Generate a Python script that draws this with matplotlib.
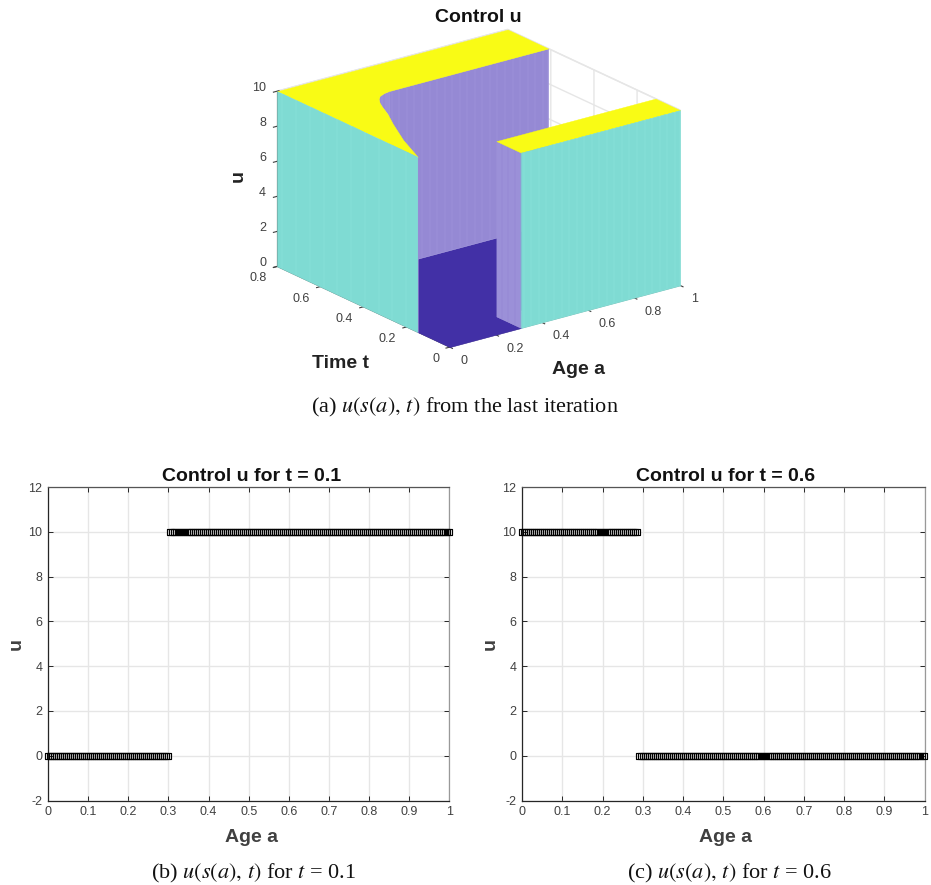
import matplotlib
matplotlib.use("Agg")
import numpy as np
import matplotlib.pyplot as plt
from mpl_toolkits.mplot3d import proj3d
from mpl_toolkits.mplot3d.art3d import Poly3DCollection

###
### Data
###
age_grid = [0.000, 0.005, 0.010, 0.015, 0.020, 0.025, 0.030, 0.035, 0.040, 0.045,
            0.050, 0.055, 0.060, 0.065, 0.070, 0.075, 0.080, 0.085, 0.090, 0.095,
            0.100, 0.105, 0.110, 0.115, 0.120, 0.125, 0.130, 0.135, 0.140, 0.145,
            0.150, 0.155, 0.160, 0.165, 0.170, 0.175, 0.180, 0.185, 0.190, 0.195,
            0.200, 0.205, 0.210, 0.215, 0.220, 0.225, 0.230, 0.235, 0.240, 0.245,
            0.250, 0.255, 0.260, 0.265, 0.270, 0.275, 0.280, 0.285, 0.290, 0.295,
            0.300, 0.305, 0.310, 0.315, 0.320, 0.325, 0.330, 0.335, 0.340, 0.345,
            0.350, 0.355, 0.360, 0.365, 0.370, 0.375, 0.380, 0.385, 0.390, 0.395,
            0.400, 0.405, 0.410, 0.415, 0.420, 0.425, 0.430, 0.435, 0.440, 0.445,
            0.450, 0.455, 0.460, 0.465, 0.470, 0.475, 0.480, 0.485, 0.490, 0.495,
            0.500, 0.505, 0.510, 0.515, 0.520, 0.525, 0.530, 0.535, 0.540, 0.545,
            0.550, 0.555, 0.560, 0.565, 0.570, 0.575, 0.580, 0.585, 0.590, 0.595,
            0.600, 0.605, 0.610, 0.615, 0.620, 0.625, 0.630, 0.635, 0.640, 0.645,
            0.650, 0.655, 0.660, 0.665, 0.670, 0.675, 0.680, 0.685, 0.690, 0.695,
            0.700, 0.705, 0.710, 0.715, 0.720, 0.725, 0.730, 0.735, 0.740, 0.745,
            0.750, 0.755, 0.760, 0.765, 0.770, 0.775, 0.780, 0.785, 0.790, 0.795,
            0.800, 0.805, 0.810, 0.815, 0.820, 0.825, 0.830, 0.835, 0.840, 0.845,
            0.850, 0.855, 0.860, 0.865, 0.870, 0.875, 0.880, 0.885, 0.890, 0.895,
            0.900, 0.905, 0.910, 0.915, 0.920, 0.925, 0.930, 0.935, 0.940, 0.945,
            0.950, 0.955, 0.960, 0.965, 0.970, 0.975, 0.980, 0.985, 0.990, 0.995,
            1.000]
# last point of the first run, first point of the second run
end_t01, start_t01 = 0.300, 0.305
end_t06, start_t06 = 0.285, 0.290
u_low = 0
u_high = 10

# edge of the u=10 plateau on the left of the surface
curve_a = [0.000, 0.060, 0.126, 0.170, 0.200, 0.215, 0.235, 0.255, 0.285, 0.310]
curve_t = [0.148, 0.280, 0.398, 0.470, 0.529, 0.555, 0.580, 0.597, 0.608, 0.612]
t_block = 0.115
t_back = 0.612
a_block = 0.31

age_ticks = [0, 0.2, 0.4, 0.6, 0.8, 1]
time_ticks = [0, 0.2, 0.4, 0.6, 0.8]
u_ticks = [0, 2, 4, 6, 8, 10]

caption_a = r"(a) $u(s(a),\, t)$ from the last iteration"
caption_b = r"(b) $u(s(a),\, t)$ for $t$ = 0.1"
caption_c = r"(c) $u(s(a),\, t)$ for $t$ = 0.6"

###
### Style
###
W, H = 931, 885
TXT = '#404040'
plt.rcParams['font.family'] = ['Liberation Sans', 'DejaVu Sans']
plt.rcParams['mathtext.fontset'] = 'stix'
plt.rcParams['axes.unicode_minus'] = False
plt.rcParams['grid.color'] = '#e6e6e6'
plt.rcParams['grid.linewidth'] = 1.0
col_teal = '#86dfd7'
col_teal_edge = '#76d8cf'
col_wall = '#9b90d8'
col_wall_edge = '#8d81d1'
col_floor = '#4230a6'
col_top = '#f9fb15'

fig = plt.figure(figsize=(W/100, H/100), dpi=100)

def px_axes(x0, y0, x1, y1, **kw):
    return fig.add_axes([x0/W, 1-y1/H, (x1-x0)/W, (y1-y0)/H], **kw)

###
### 3D surface
###
ax3 = px_axes(263, -16, 683, 404, projection='3d', computed_zorder=False)
ax3.set_proj_type('ortho')
ax3.view_init(elev=20.7, azim=-127.1)
ax3.set_box_aspect((290, 287, 188), zoom=1.035)
ax3.set_xlim(0, 1)
ax3.set_ylim(0, 0.8)
ax3.set_zlim(0, 10)
ax3.patch.set_alpha(0)

ages = np.array(age_grid)

def add_polys(polys, fc, ec, z, lw=0.3):
    ax3.add_collection3d(Poly3DCollection(polys, facecolors=fc, edgecolors=ec,
                                          linewidths=lw, zorder=z))

def wall(a_pts, t_pts, fc, ec, z):
    # solid sheet first, then the mesh lines on top of it
    a_pts = list(a_pts)
    t_pts = list(t_pts)
    sheet = [(a, t, u_low) for a, t in zip(a_pts, t_pts)]
    sheet += [(a, t, u_high) for a, t in zip(a_pts[::-1], t_pts[::-1])]
    add_polys([sheet], fc, fc, z)
    polys = []
    for i in range(0, len(a_pts)-1):
        polys.append([(a_pts[i], t_pts[i], u_low), (a_pts[i], t_pts[i], u_high)])
    add_polys(polys, (0, 0, 0, 0), ec, z)

# floor
floor = [(0, 0, 0), (a_block, 0, 0), (a_block, t_block, 0), (1, t_block, 0), (1, t_back, 0)]
floor += [(a, t, 0) for a, t in zip(curve_a[::-1], curve_t[::-1])]
add_polys([floor], col_floor, col_floor, 1)

# back wall, curved wall, block wall
a_right = ages[ages >= a_block]
wall(a_right, np.full(len(a_right), t_back), col_wall, col_wall_edge, 2)
wall(curve_a, curve_t, col_wall, col_wall_edge, 3)
t_pts = np.array([0, 0.03, 0.06, 0.09, t_block])
wall(np.full(len(t_pts), a_block), t_pts, col_wall, col_wall_edge, 4)

# plateaus
top = [(a, t, 10) for a, t in zip(curve_a, curve_t)]
top += [(1, t_back, 10), (1, 0.8, 10), (0, 0.8, 10)]
add_polys([top], col_top, col_top, 5)
add_polys([[(a_block, 0, 10), (1, 0, 10), (1, t_block, 10), (a_block, t_block, 10)]],
          col_top, col_top, 5)

# outer walls
wall(a_right, np.zeros(len(a_right)), col_teal, col_teal_edge, 6)
t_left = ages[(ages >= 0.148) & (ages <= 0.8)]
wall(np.zeros(len(t_left)), t_left, col_teal, col_teal_edge, 6)

ax3.set_xticks(age_ticks)
ax3.set_yticks(time_ticks)
ax3.set_zticks(u_ticks)
ax3.tick_params(labelcolor=(0, 0, 0, 0), colors=TXT, labelsize=1)
for axis in (ax3.xaxis, ax3.yaxis, ax3.zaxis):
    axis.set_pane_color((1, 1, 1, 1))
    axis.pane.set_edgecolor('#e8e8e8')
    axis.line.set_color('#404040')
    axis.line.set_linewidth(0.6)

# tick labels sit at a fixed pixel offset from the tick, as in the original
def tick_label(x, y, z, val, dx, dy, ha):
    x2, y2, _ = proj3d.proj_transform(x, y, z, ax3.get_proj())
    ax3.annotate(f'{val:g}', xy=(x2, y2), xytext=(dx, dy), textcoords='offset pixels',
                 ha=ha, va='center', fontsize=9, color=TXT, annotation_clip=False)

for v in age_ticks:
    tick_label(v, 0, 0, v, 10.5, -14, 'left')
for v in time_ticks:
    tick_label(0, v, 0, v, -10.5, -12, 'right')
for v in u_ticks:
    tick_label(0, 0.8, v, v, -11, 3.5, 'right')

fig.text(478/W, 1-18/H, 'Control u', ha='center', va='center', fontsize=14, fontweight='bold', color='#111111')
fig.text(341/W, 1-363/H, 'Time t', ha='center', va='center', fontsize=14, fontweight='bold', color='#222222')
fig.text(579/W, 1-369/H, 'Age a', ha='center', va='center', fontsize=14, fontweight='bold', color='#222222')
fig.text(238/W, 1-176/H, 'u', ha='center', va='center', rotation=90, fontsize=14, fontweight='bold', color='#222222')

###
### Slices
###
def slice_panel(box, end, start, first, second, title, xc):
    ax = px_axes(*box)
    ax.scatter(ages[ages <= end], np.full((ages <= end).sum(), first), marker='s', s=4.3**2,
               facecolors='none', edgecolors='k', linewidths=0.85, clip_on=False, zorder=3)
    ax.scatter(ages[ages >= start], np.full((ages >= start).sum(), second), marker='s', s=4.3**2,
               facecolors='none', edgecolors='k', linewidths=0.85, clip_on=False, zorder=3)
    ax.set_xlim(0, 1)
    ax.set_ylim(-2, 12)
    ax.set_xticks(np.arange(0, 11)/10, ['0', '0.1', '0.2', '0.3', '0.4', '0.5', '0.6', '0.7', '0.8', '0.9', '1'])
    ax.set_yticks(range(-2, 13, 2))
    ax.grid(True)
    ax.set_axisbelow(True)
    ax.tick_params(direction='in', top=True, right=True, length=3.5, width=0.7,
                   labelsize=9, labelcolor=TXT, color='#262626', pad=4)
    for s in ax.spines.values():
        s.set_color('#262626')
        s.set_linewidth(0.9)
    ax.spines['top'].set_color('#555555')
    ax.spines['right'].set_color('#999999')
    ax.set_xlabel('Age a', fontsize=14, fontweight='bold', color=TXT, labelpad=8, x=xc)
    ax.set_ylabel('u', fontsize=14, fontweight='bold', color=TXT, labelpad=3)
    ax.set_title(title, fontsize=14, fontweight='bold', color='#111111', pad=4, x=xc)
    return ax

slice_panel((48, 487, 449.5, 800.5), end_t01, start_t01, u_low, u_high, 'Control u for t = 0.1', 0.508)
slice_panel((522, 487, 924.5, 800.5), end_t06, start_t06, u_high, u_low, 'Control u for t = 0.6', 0.506)

for x, y, s in [(465, 407, caption_a), (254, 873, caption_b), (729, 873, caption_c)]:
    fig.text(x/W, 1-y/H, s, ha='center', va='center', fontsize=16,
             family='Liberation Serif', color='#111111')

fig.savefig('out.png', dpi=100)
